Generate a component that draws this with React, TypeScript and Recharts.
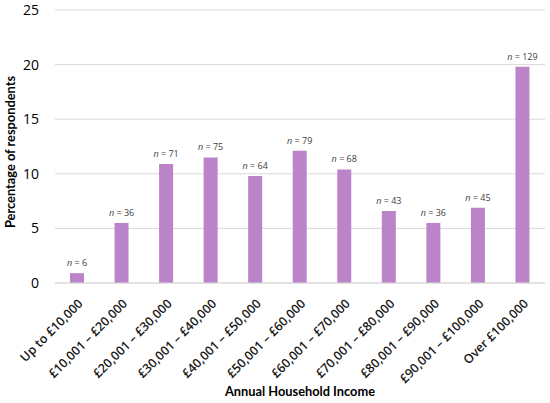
import React from "react";
import { BarChart, Bar, XAxis, YAxis, CartesianGrid, LabelList } from "recharts";

const categories = [
  "Up to £10,000",
  "£10,001 – £20,000",
  "£20,001 – £30,000",
  "£30,001 – £40,000",
  "£40,001 – £50,000",
  "£50,001 – £60,000",
  "£60,001 – £70,000",
  "£70,001 – £80,000",
  "£80,001 – £90,000",
  "£90,001 – £100,000",
  "Over £100,000",
];
const percentages = [0.9, 5.5, 10.9, 11.5, 9.8, 12.1, 10.4, 6.6, 5.5, 6.9, 19.8];
const counts = [6, 36, 71, 75, 64, 79, 68, 43, 36, 45, 129];
const yTicks = [0, 5, 10, 15, 20, 25];

const data = categories.map((c, i) => ({ name: c, value: percentages[i], n: counts[i] }));

const FONT = "'Open Sans', 'Liberation Sans', sans-serif";
const TITLE_FONT = "Lato, 'Open Sans', sans-serif";

const XTick = (props: any) => {
  const { x, y, payload } = props;
  const tx = x + 4;
  const ty = y + 11;
  return (
    <text
      x={tx}
      y={ty}
      transform={`rotate(-45, ${tx}, ${ty})`}
      textAnchor="end"
      dominantBaseline="middle"
      fontSize={12.5}
      fontWeight={600}
      fontFamily={FONT}
      fill="#1a1a1a"
    >
      {payload.value}
    </text>
  );
};

const NLabel = (props: any) => {
  const { x, y, width, index } = props;
  return (
    <text
      x={x + width / 2}
      y={y - 7}
      textAnchor="middle"
      fontSize={9}
      fontFamily={FONT}
      fill="#404040"
    >
      <tspan fontStyle="italic">n</tspan>
      <tspan>{` = ${counts[index]}`}</tspan>
    </text>
  );
};

export default function App() {
  return (
    <div style={{ position: "absolute", left: 0, top: 0, width: 550, height: 403, background: "#fff" }}>
      <BarChart
        width={550}
        height={403}
        data={data}
        margin={{ top: 10, right: 5, left: 0, bottom: 0 }}
        barCategoryGap={0}
      >
        <CartesianGrid vertical={false} stroke="#D9D9D9" strokeWidth={1} />
        <XAxis
          dataKey="name"
          height={120}
          interval={0}
          tickLine={false}
          axisLine={{ stroke: "#D9D9D9" }}
          tick={<XTick />}
          label={(p: any) => {
            const vb = p.viewBox || {};
            return (
              <text
                x={vb.x + vb.width / 2}
                y={393}
                textAnchor="middle"
                dominantBaseline="middle"
                fontSize={12.8}
                fontWeight="bold"
                fontFamily={TITLE_FONT}
                fill="#000"
              >
                Annual Household Income
              </text>
            );
          }}
        />
        <YAxis
          width={55}
          domain={[0, 25]}
          ticks={yTicks}
          axisLine={false}
          tickLine={false}
          tickMargin={10}
          tick={{ fontSize: 14, fontFamily: FONT, fill: "#000" }}
          label={() => {
            return (
              <text
                x={12}
                y={152}
                transform="rotate(-90, 12, 152)"
                textAnchor="middle"
                dominantBaseline="middle"
                fontSize={12.8}
                fontWeight="bold"
                fontFamily={TITLE_FONT}
                fill="#000"
              >
                Percentage of respondents
              </text>
            );
          }}
        />
        <Bar dataKey="value" fill="#BC84C8" barSize={14} isAnimationActive={false}>
          <LabelList dataKey="value" content={<NLabel />} />
        </Bar>
      </BarChart>
    </div>
  );
}
